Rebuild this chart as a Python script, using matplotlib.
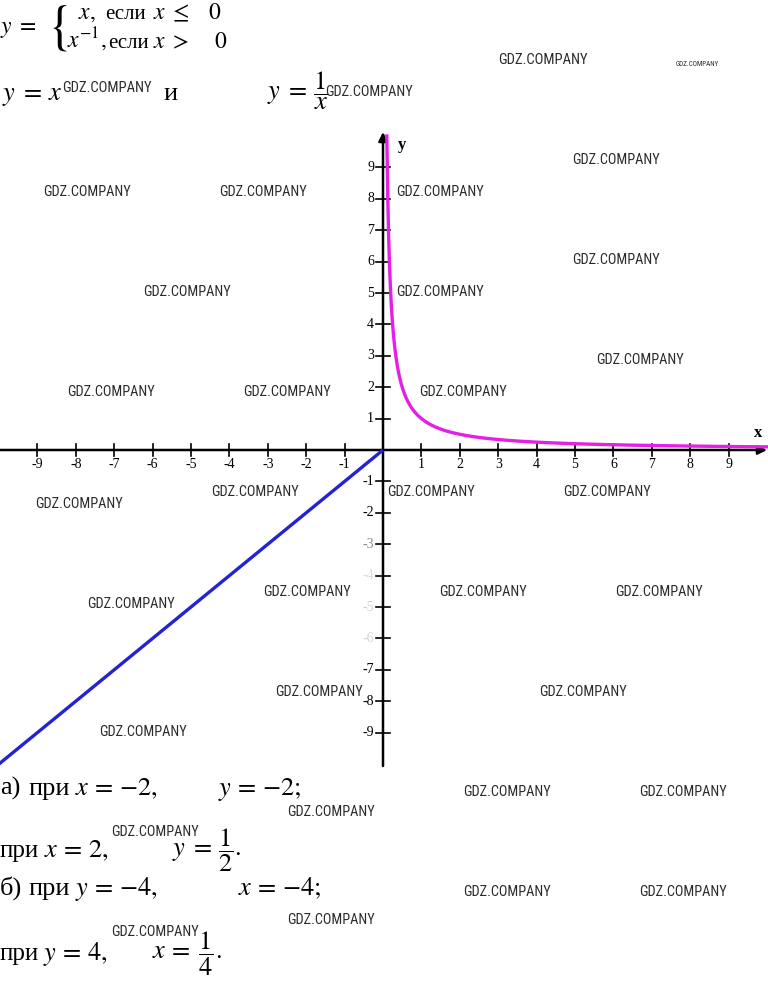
import numpy as np
import matplotlib.pyplot as plt
from matplotlib import font_manager

plt.rcParams['mathtext.fontset'] = 'stix'

W, H = 768, 984
SERIF = 'Liberation Serif'

# graph data: y = x for x <= 0, y = 1/x for x > 0
line_x = [-10, 0]
line_y = [-10, 0]
hyp_x = np.concatenate([np.linspace(0.1, 1, 80), np.linspace(1, 10, 80)])
hyp_y = 1 / hyp_x

x_ticks = [-9, -8, -7, -6, -5, -4, -3, -2, -1, 1, 2, 3, 4, 5, 6, 7, 8, 9]
y_ticks = [-9, -8, -7, -6, -5, -4, -3, -2, -1, 1, 2, 3, 4, 5, 6, 7, 8, 9]
faded = {-3: '#8a8a8a', -4: '#dddddd', -5: '#cfcfcf', -6: '#d5d5d5'}

# watermark spots (left x, centre y, width) in pixels
marks = [(498, 60, 90), (676, 64, 44), (62, 88, 90), (325, 92, 88),
         (43, 192, 88), (219, 192, 88), (396, 192, 88), (572, 160, 88),
         (143, 292, 88), (396, 292, 88), (572, 260, 88), (596, 360, 88),
         (67, 392, 88), (243, 392, 88), (419, 392, 88),
         (35, 504, 88), (211, 492, 88), (387, 492, 88), (563, 492, 88),
         (87, 604, 88), (263, 592, 88), (439, 592, 88), (615, 592, 88),
         (275, 692, 88), (539, 692, 88), (99, 732, 88),
         (463, 792, 88), (639, 792, 88), (287, 812, 88), (111, 832, 88),
         (463, 892, 88), (639, 892, 88), (287, 920, 88), (111, 932, 88)]

# formula rows: (baseline, [(left x, text, size, is_cyrillic), ...])
rows = [
    (33, [(0, r'$y\;=$', 17, 0)]),
    (19, [(78, r'$x,$', 17, 0), (105, 'если', 15, 1),
          (153, r'$x\;\leq$', 17, 0), (208, r'$0$', 17, 0)]),
    (48, [(67, r'$x^{-1},$', 17, 0), (108, 'если', 15, 1),
          (153, r'$x\;>$', 17, 0), (214, r'$0$', 17, 0)]),
    (100, [(2, r'$y\;=\,x$', 19, 0), (163, 'и', 19, 1),
           (267, r'$y\;=\,\dfrac{1}{x}$', 19, 0)]),
    (795, [(0, 'а)', 19, 1), (28, 'при', 19, 1),
           (75, r'$x\,=\,{-2},$', 19, 0), (218, r'$y\,=\,{-2};$', 19, 0)]),
    (857, [(0, 'при', 18, 1), (44, r'$x\,=\,2,$', 19, 0),
           (172, r'$y\;=\,\dfrac{1}{2}.$', 19, 0)]),
    (895, [(0, 'б)', 19, 1), (28, 'при', 19, 1),
           (75, r'$y\,=\,{-4},$', 19, 0), (238, r'$x\,=\,{-4};$', 19, 0)]),
    (960, [(0, 'при', 18, 1), (43, r'$y\,=\,4,$', 19, 0),
           (152, r'$x\,=\;\dfrac{1}{4}.$', 19, 0)]),
]

# pixel placement of the axes
X0, Y0 = 383, 450
SX, SY = 38.4, 31.4

fig = plt.figure(figsize=(W / 100, H / 100), dpi=100)
ax = fig.add_axes([0, 0, 1, 1])
ax.set_xlim(-X0 / SX, (W - X0) / SX)
ax.set_ylim((Y0 - H) / SY, Y0 / SY)
ax.axis('off')

arrow = dict(arrowstyle='-|>', color='black', lw=1.8, mutation_scale=13,
             shrinkA=0, shrinkB=0)
ax.annotate('', xy=((W - 1 - X0) / SX, 0), xytext=(-X0 / SX, 0),
            arrowprops=arrow, zorder=2)
ax.annotate('', xy=(0, (Y0 - 132) / SY), xytext=(0, (Y0 - 766) / SY),
            arrowprops=arrow, zorder=2)

for t in x_ticks:
    ax.plot([t, t], [-6 / SY, 6 / SY], color='black', lw=1.2, zorder=2)
    ax.text(t, -14 / SY, str(t), ha='center', va='center', fontsize=10,
            family=SERIF)
for t in y_ticks:
    ax.plot([-7 / SX, 7 / SX], [t, t], color='black', lw=1.2, zorder=2)
    ax.text(-9 / SX, t, str(t), ha='right', va='center', fontsize=10,
            family=SERIF, color=faded.get(t, 'black'))

ax.text(19 / SX, (Y0 - 145) / SY, 'y', fontsize=12, fontweight='bold',
        family=SERIF, ha='center', va='center')
ax.text((758 - X0) / SX, (Y0 - 433) / SY, 'x', fontsize=12, fontweight='bold',
        family=SERIF, ha='center', va='center')

ax.plot(line_x, line_y, color='#2323d2', lw=2.4, zorder=3,
        solid_capstyle='butt')
ax.plot(hyp_x, hyp_y, color='#e51fe5', lw=2.4, zorder=3)


def put(x, y, s, size, va='baseline', **kw):
    fig.text(x / W, 1 - y / H, s, fontsize=size, ha='left', va=va, **kw)


# brace of the piecewise definition
put(47, 27, r'$\{$', 38, va='center')

for base, items in rows:
    for x, s, size, cyr in items:
        if cyr:
            put(x, base, s, size, family=SERIF)
        else:
            put(x, base, s, size)

# watermark font: the narrowest sans available
fonts = font_manager.fontManager.ttflist
names = {f.name for f in fonts}
wm_font = dict(family='DejaVu Sans')
if 'Roboto Condensed' in names:
    wm_font = dict(family='Roboto Condensed')
elif 'Liberation Sans Narrow' in names:
    wm_font = dict(family='Liberation Sans Narrow')
elif any(f.name == 'DejaVu Sans' and f.stretch == 'condensed' for f in fonts):
    wm_font = dict(family='DejaVu Sans', stretch='condensed')

renderer = fig.canvas.get_renderer()
probe = fig.text(0, 0, 'GDZ.COMPANY', fontsize=10, **wm_font)
probe_w = probe.get_window_extent(renderer).width
probe.remove()

for x, y, w in marks:
    put(x, y, 'GDZ.COMPANY', 10 * w / probe_w, va='center', color='#2b2b2b',
        **wm_font)

fig.savefig('out.png', dpi=100)
